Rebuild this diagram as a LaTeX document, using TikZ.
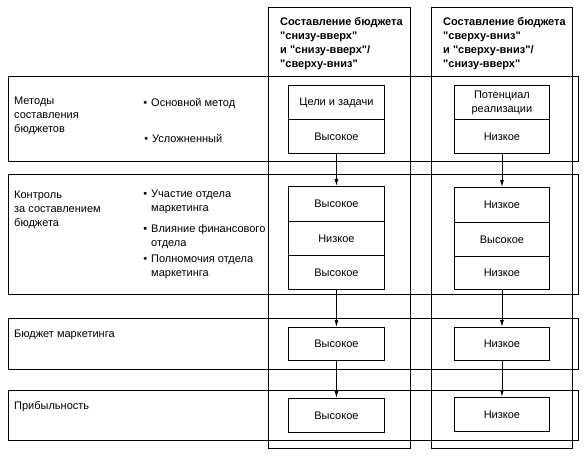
\documentclass[tikz,border=0pt]{standalone}
\usepackage{fontspec}
\setmainfont{Liberation Sans}[Ligatures=TeXOff]
\usetikzlibrary{arrows.meta}
\begin{document}
\begin{tikzpicture}[x=1pt,y=-1pt,
  every node/.style={font=\fontsize{11}{14}\selectfont, inner sep=0pt},
  band/.style={draw, line width=0.9pt, anchor=north west},
  cellA/.style={draw, line width=0.9pt, minimum width=96pt, anchor=north west},
  cellB/.style={draw, line width=0.9pt, minimum width=95pt, anchor=north west},
  lbl/.style={anchor=north west, align=left},
  hdr/.style={anchor=north west, align=left, font=\fontsize{11}{14}\selectfont\bfseries},
  link/.style={line width=0.9pt, -{Latex[length=7pt,width=4pt]}}]
\fill[white] (0,0) rectangle (587,458);
\useasboundingbox (0,0) rectangle (587,458);
% rows
\node[band, minimum width=570pt, minimum height=85pt] (r1) at (8,76) {};
\node[band, minimum width=570pt, minimum height=120pt] (r2) at (8,174) {};
\node[band, minimum width=570pt, minimum height=51pt] (r3) at (8,318) {};
\node[band, minimum width=570pt, minimum height=50pt] (r4) at (8,390) {};
% columns
\node[band, minimum width=142pt, minimum height=441pt] (c1) at (268,7) {};
\node[band, minimum width=141pt, minimum height=441pt] (c2) at (431,7) {};
% headers
\node[hdr] (h1) at (280,17.5) {Составление бюджета\\"снизу-вверх"\\и "снизу-вверх"/\\"сверху-вниз"};
\node[hdr] (h2) at (443,17.5) {Составление бюджета\\"сверху-вниз"\\и "сверху-вниз"/\\"снизу-вверх"};
% row labels
\node[lbl] (t1) at (14,97) {Методы\\составления\\бюджетов};
\node[lbl] (t2) at (14,190.5) {Контроль\\за составлением\\бюджета};
\node[lbl] (t3) at (14,329.5) {Бюджет маркетинга};
\node[lbl] (t4) at (14,401.5) {Прибыльность};
% bullets
\node[lbl] (p1) at (151,98.5) {\llap{•\hspace{4pt}}Основной метод};
\node[lbl] (p2) at (152,134.5) {\llap{•\hspace{4pt}}Усложненный};
\node[lbl] (p3) at (151,189.5) {\llap{•\hspace{4pt}}Участие отдела\\маркетинга};
\node[lbl] (p4) at (151,224.5) {\llap{•\hspace{4pt}}Влияние финансового\\отдела};
\node[lbl] (p5) at (151,254.5) {\llap{•\hspace{4pt}}Полномочия отдела\\маркетинга};
% left column cells
\node[cellA, minimum height=34pt] (a1) at (288,85) {Цели и задачи};
\node[cellA, minimum height=34pt] (a2) at (288,119) {Высокое};
\node[cellA, minimum height=35pt] (a3) at (288,186) {Высокое};
\node[cellA, minimum height=34pt] (a4) at (288,221) {Низкое};
\node[cellA, minimum height=34pt] (a5) at (288,255) {Высокое};
\node[cellA, minimum height=33pt] (a6) at (288,327) {Высокое};
\node[cellA, minimum height=34pt] (a7) at (288,398) {Высокое};
% right column cells
\node[cellB, minimum height=34pt, align=center] (b1) at (454,85) {Потенциал\\реализации};
\node[cellB, minimum height=34pt] (b2) at (454,119) {Низкое};
\node[cellB, minimum height=35pt] (b3) at (454,187) {Низкое};
\node[cellB, minimum height=34pt] (b4) at (454,222) {Высокое};
\node[cellB, minimum height=33pt] (b5) at (454,256) {Низкое};
\node[cellB, minimum height=33pt] (b6) at (454,327) {Низкое};
\node[cellB, minimum height=34pt] (b7) at (454,397) {Низкое};
% connectors
\draw[link] (a2.south) -- (a3.north);
\draw[link] (a5.south) -- (a6.north);
\draw[link] (a6.south) -- (a7.north);
\draw[link] (b2.south) -- (b3.north);
\draw[link] (b5.south) -- (b6.north);
\draw[link] (b6.south) -- (b7.north);
\end{tikzpicture}
\end{document}
